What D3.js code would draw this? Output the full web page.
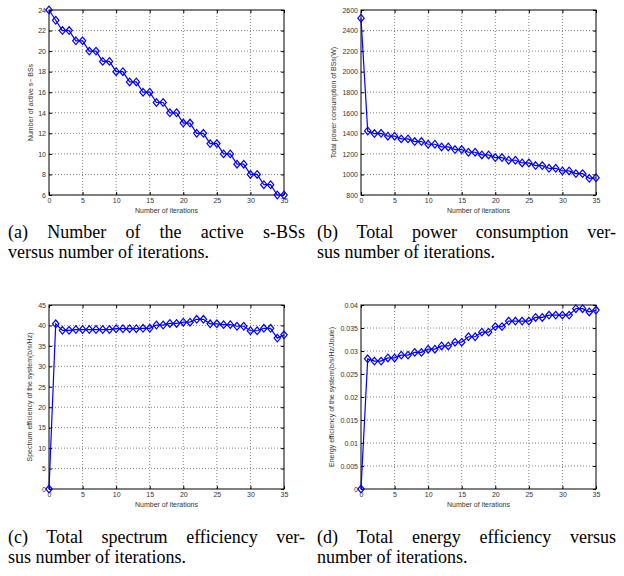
<!DOCTYPE html>
<html>
<head>
<meta charset="utf-8">
<script src="https://cdn.jsdelivr.net/npm/d3@7.9.0/dist/d3.min.js"></script>
<style>
  body { margin: 0; background: #fff; }
  #wrap { position: relative; width: 624px; height: 576px; }
  svg { position: absolute; left: 0; top: 0; }
  .tick text { font-family: "Liberation Sans", Arial, sans-serif; font-size: 7px; fill: #333; }
  .lbl { font-family: "Liberation Sans", Arial, sans-serif; font-size: 7px; fill: #333; }
  .cap { position: absolute; font-family: "Liberation Serif", "Times New Roman", serif; font-size: 18px; line-height: 20px; color: #000; white-space: nowrap; }
  .cap .l1 { text-align: justify; text-align-last: justify; }
</style>
</head>
<body>
<div id="wrap">
<svg width="624" height="576"></svg>
</div>
<script>
// iteration index (x axis)
const iterations = [0,1,2,3,4,5,6,7,8,9,10,11,12,13,14,15,16,17,18,19,20,21,22,23,24,25,26,27,28,29,30,31,32,33,34,35];
const xTicks = [0,5,10,15,20,25,30,35];

// (a) number of active s-BSs
const activeSBSs = [24,23,22,22,21,21,20,20,19,19,18,18,17,17,16,16,15,15,14,14,13,13,12,12,11,11,10,10,9,9,8,8,7,7,6,6];
const ticksA = [6,8,10,12,14,16,18,20,22,24];

// (b) total power consumption (W)
const powerW = [2520,1423,1398,1400,1372,1372,1346,1346,1320,1320,1294,1294,1268,1268,1242,1242,1216,1216,1190,1190,1164,1164,1138,1138,1112,1112,1086,1086,1060,1060,1034,1034,1008,1008,962,968];
const ticksB = [800,1000,1200,1400,1600,1800,2000,2200,2400,2600];

// (c) spectrum efficiency (b/s/Hz)
const spectrumEff = [0,40.4,38.8,38.8,39.0,39.0,39.0,39.0,39.0,39.0,39.2,39.2,39.2,39.2,39.3,39.3,40.1,40.1,40.5,40.5,40.8,40.8,41.5,41.5,40.4,40.4,40.2,40.2,39.8,39.8,38.7,38.7,39.3,39.3,36.9,37.7];
const ticksC = [0,5,10,15,20,25,30,35,40,45];

// (d) energy efficiency (b/s/Hz/Joule)
const energyEff = [0,0.0283,0.0278,0.0278,0.0285,0.0285,0.0291,0.0291,0.0297,0.0297,0.0304,0.0304,0.0311,0.0311,0.0319,0.0319,0.0331,0.0331,0.0341,0.0341,0.0353,0.0353,0.0365,0.0365,0.0365,0.0365,0.0373,0.0373,0.0378,0.0378,0.0378,0.0378,0.0392,0.0392,0.0385,0.0389];
const ticksD = [0,0.005,0.01,0.015,0.02,0.025,0.03,0.035,0.04];

const svg = d3.select('svg');
const blue = '#0000ff';

function drawPanel(p) {
  const g = svg.append('g');
  const x = d3.scaleLinear().domain([0, 35]).range([p.left, p.right]);
  const y = d3.scaleLinear().domain([p.ticks[0], p.ticks[p.ticks.length - 1]]).range([p.bottom, p.top]);

  // dotted grid
  g.selectAll('.vg').data(xTicks.slice(1, -1)).enter().append('line')
    .attr('x1', d => x(d)).attr('x2', d => x(d))
    .attr('y1', p.top).attr('y2', p.bottom)
    .attr('stroke', '#666').attr('stroke-width', 0.8).attr('stroke-dasharray', '1,2');
  g.selectAll('.hg').data(p.ticks.slice(1, -1)).enter().append('line')
    .attr('y1', d => y(d)).attr('y2', d => y(d))
    .attr('x1', p.left).attr('x2', p.right)
    .attr('stroke', '#666').attr('stroke-width', 0.8).attr('stroke-dasharray', '1,2');

  // axes, ticks pointing inward like matlab
  const ax = (gen, tr) => {
    const a = g.append('g').attr('transform', tr).call(gen);
    a.select('.domain').remove();
    a.selectAll('.tick line').attr('stroke', '#000');
    return a;
  };
  ax(d3.axisBottom(x).tickValues(xTicks).tickSize(-3).tickPadding(3).tickFormat(d3.format('d')), `translate(0,${p.bottom})`);
  ax(d3.axisTop(x).tickValues(xTicks).tickSize(-3).tickFormat(''), `translate(0,${p.top})`);
  ax(d3.axisLeft(y).tickValues(p.ticks).tickSize(-3).tickPadding(3).tickFormat(d => String(d)), `translate(${p.left},0)`);
  ax(d3.axisRight(y).tickValues(p.ticks).tickSize(-3).tickFormat(''), `translate(${p.right},0)`);

  // frame
  g.append('rect')
    .attr('x', p.left).attr('y', p.top)
    .attr('width', p.right - p.left).attr('height', p.bottom - p.top)
    .attr('fill', 'none').attr('stroke', '#000').attr('stroke-width', 1);

  // series
  g.append('path')
    .datum(p.values)
    .attr('fill', 'none').attr('stroke', blue).attr('stroke-width', 1.2)
    .attr('d', d3.line().x((d, i) => x(iterations[i])).y(d => y(d)));

  g.selectAll('.mk').data(p.values).enter().append('path')
    .attr('transform', (d, i) => `translate(${x(iterations[i])},${y(d)})`)
    .attr('d', 'M0,-3.8L3.2,0L0,3.8L-3.2,0Z')
    .attr('fill', 'none').attr('stroke', blue).attr('stroke-width', 1.2);

  // labels
  g.append('text').attr('class', 'lbl')
    .attr('x', (p.left + p.right) / 2).attr('y', p.bottom + 18)
    .attr('text-anchor', 'middle').text('Number of iterations');
  g.append('text').attr('class', 'lbl')
    .attr('transform', `translate(${p.ylabX},${(p.top + p.bottom) / 2}) rotate(-90)`)
    .attr('text-anchor', 'middle').text(p.ylab);
}

drawPanel({ left: 49, right: 284, top: 10, bottom: 195, values: activeSBSs, ticks: ticksA,
  ylabX: 33, ylab: 'Number of active s\u2212 BSs' });
drawPanel({ left: 361, right: 596, top: 10, bottom: 195, values: powerW, ticks: ticksB,
  ylabX: 336, ylab: 'Total power consumption of BSs(W)' });
drawPanel({ left: 49, right: 284, top: 305, bottom: 489, values: spectrumEff, ticks: ticksC,
  ylabX: 32, ylab: 'Spectrum efficiency of the system(b/s/Hz)' });
drawPanel({ left: 361, right: 596, top: 305, bottom: 489, values: energyEff, ticks: ticksD,
  ylabX: 334, ylab: 'Energy efficiency of the system(b/s/Hz/Joule)' });

// captions
const captions = [
  { x: 8, y: 222, w: 297, l1: '(a) Number of the active s-BSs', l2: 'versus number of iterations.' },
  { x: 317, y: 222, w: 299, l1: '(b) Total power consumption ver-', l2: 'sus number of iterations.' },
  { x: 8, y: 527, w: 297, l1: '(c) Total spectrum efficiency ver-', l2: 'sus number of iterations.' },
  { x: 317, y: 527, w: 299, l1: '(d) Total energy efficiency versus', l2: 'number of iterations.' }
];
const wrap = d3.select('#wrap');
captions.forEach(c => {
  const d = wrap.append('div').attr('class', 'cap')
    .style('left', c.x + 'px').style('top', c.y + 'px').style('width', c.w + 'px');
  d.append('div').attr('class', 'l1').text(c.l1);
  d.append('div').text(c.l2);
});
</script>
</body>
</html>
